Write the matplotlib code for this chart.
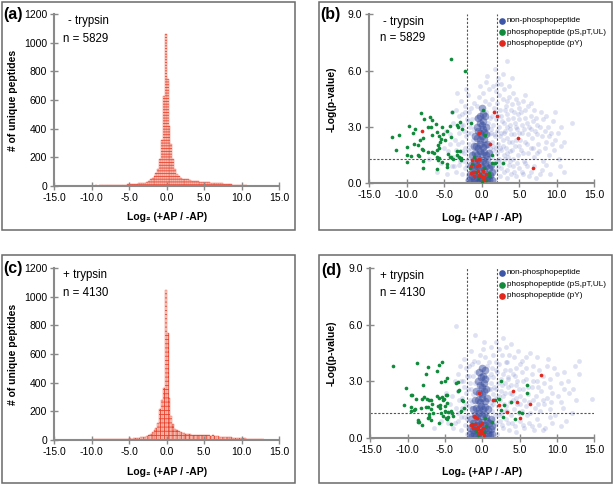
import numpy as np
import matplotlib
matplotlib.use('Agg')
import matplotlib.pyplot as plt
from matplotlib.lines import Line2D
from matplotlib.patches import Rectangle

W, H = 614, 487
FN = ['Liberation Sans', 'DejaVu Sans']

# ---------------- data ----------------
bin_width = 0.25
hist_a_start = -10.0
hist_a_counts = [2, 1, 2, 1, 2, 3, 2, 2,
                 3, 2, 4, 3, 5, 4, 6, 7,
                 5, 8, 6, 9, 10, 9, 11, 13,
                 14, 16, 17, 20,
                 22, 28, 35, 45,
                 55, 70, 90, 115,
                 185, 320, 625, 1060,
                 745, 420, 290, 185,
                 120, 85, 65, 55,
                 50, 47, 45, 44,
                 40, 36, 33, 32,
                 30, 29, 28, 27,
                 26, 25, 24, 22,
                 21, 20, 19, 18,
                 17, 16, 15, 14,
                 12, 11, 9, 8,
                 7, 6, 5, 4,
                 3, 2, 2, 1]
hist_c_start = -10.0
hist_c_counts = [2, 3, 2, 3, 4, 3, 2, 3,
                 4, 3, 5, 4, 6, 5, 6, 7,
                 6, 8, 7, 8, 9, 8, 10, 11,
                 12, 14, 16, 19,
                 22, 27, 30, 38,
                 54, 70, 82, 117,
                 214, 280, 362, 1050,
                 745, 292, 166, 108,
                 75, 65, 59, 52,
                 48, 45, 42, 40,
                 38, 36, 35, 34,
                 33, 32, 31, 31,
                 33, 32, 30, 28,
                 30, 28, 26, 24,
                 22, 21, 20, 19,
                 18, 17, 16, 15,
                 14, 13, 12, 11,
                 10, 9, 8, 8,
                 7, 6, 5, 5,
                 4, 3, 3, 2]

# volcano (b): -trypsin, non-phosphopeptides (faint cloud)
nonphos_b_scatter = [
    (1.2,0.3),(1.5,0.6),(1.8,0.2),(2.1,0.9),(2.4,0.4),(2.7,1.1),(3.0,0.6),(3.3,0.3),(3.6,1.0),(3.9,0.5),
    (4.2,0.9),(4.6,0.4),(5.0,0.8),(5.5,0.5),(6.0,0.9),(6.6,0.6),(7.2,0.3),(8.0,0.7),(9.1,0.5),(10.4,0.9),(11.0,0.6),
    (1.3,1.4),(1.7,1.2),(2.0,1.6),(2.3,1.3),(2.6,1.8),(2.9,1.5),(3.2,1.9),(3.5,1.4),(3.8,1.7),(4.1,1.3),
    (4.4,2.0),(4.8,1.5),(5.2,1.8),(5.6,1.2),(6.1,1.6),(6.5,1.9),(7.0,1.4),(7.6,1.7),(8.2,1.2),(8.9,1.5),(9.6,1.8),(10.3,1.3),
    (1.4,2.2),(1.8,2.5),(2.2,2.1),(2.5,2.7),(2.8,2.3),(3.1,2.8),(3.4,2.4),(3.7,2.9),(4.0,2.2),(4.3,2.6),
    (4.7,2.9),(5.1,2.3),(5.4,2.7),(5.8,2.2),(6.2,2.6),(6.7,2.4),(7.1,2.8),(7.5,2.1),(8.0,2.5),(8.6,2.2),(9.2,2.7),(9.8,2.3),(10.5,2.0),
    (1.5,3.1),(1.9,3.4),(2.3,3.0),(2.6,3.6),(3.0,3.2),(3.3,3.7),(3.7,3.1),(4.1,3.5),(4.5,3.0),(4.9,3.4),
    (5.3,3.1),(5.8,3.5),(6.3,3.0),(6.8,3.3),(7.4,3.1),(8.1,3.4),(8.8,3.0),(9.5,3.3),(12.0,3.2),
    (1.6,4.0),(2.0,4.3),(2.4,3.9),(2.8,4.5),(3.2,4.1),(3.6,4.6),(4.0,4.2),(4.5,4.5),(5.0,4.0),(5.5,4.4),(6.2,4.1),(7.0,3.9),
    (1.9,4.9),(2.5,5.3),(3.0,5.0),(2.8,5.8),(3.3,6.5),(2.2,5.6),(1.5,5.2),
    (-1.8,0.4),(-2.2,0.8),(-2.6,0.5),(-3.0,1.0),(-3.5,0.6),(-4.0,0.9),(-4.6,0.5),(-1.9,1.3),(-2.4,1.6),(-2.9,1.2),
    (-3.4,1.8),(-3.9,1.4),(-4.5,1.7),(-1.7,2.1),(-2.1,2.5),(-2.6,2.2),(-3.1,2.7),(-3.6,2.3),(-4.2,2.6),(-1.6,3.0),
    (-2.0,3.4),(-2.5,3.1),(-3.0,3.6),(-3.8,3.2),(-1.7,3.8),(-2.3,4.1),(-2.8,4.4),(-1.9,4.7),(-2.1,5.0),(-3.3,4.8),
    (-5.5,1.1),(-6.0,0.6),(-7.0,1.3),
    (-1.6,0.1),(-2.0,0.2),(-1.5,0.7),(-1.3,1.6),(-1.2,2.3),(-1.0,2.9),(-0.8,3.5),(-0.6,4.1),(-0.4,4.6),(-1.1,4.3),
    (1.2,0.1),(1.3,0.8),(1.1,1.9),(0.9,2.6),(0.8,3.2),(0.6,3.8),(0.4,4.4),(0.2,4.8),(0.9,4.2),(1.1,3.5),
    (-1.4,1.9),(-1.5,2.7),(-1.3,3.4),(1.2,2.7),(1.4,1.0),(1.5,1.8),(-0.2,5.2),(0.5,5.4),(-1.4,4.0),(1.0,5.0)]
nonphos_b_scatter2 = [
    (0.9,0.9),(1.4,0.4),(1.9,0.7),(2.2,1.2),(2.6,0.8),(3.1,1.3),(3.4,0.7),(3.8,1.2),(4.3,0.6),(4.7,1.1),(5.3,0.6),
    (5.8,1.1),(6.3,0.4),(7.0,0.9),(7.8,0.5),(8.6,1.0),
    (1.1,1.6),(1.5,2.0),(1.9,1.9),(2.4,1.9),(2.8,2.0),(3.3,1.6),(3.6,2.2),(4.0,1.8),(4.6,2.3),(5.0,2.0),(5.5,1.6),
    (6.0,2.1),(6.8,1.9),(7.3,1.6),(8.4,1.9),(9.3,2.1),
    (1.2,2.9),(1.6,2.6),(2.0,2.8),(2.4,2.5),(2.9,2.7),(3.4,3.0),(3.9,2.6),(4.4,3.2),(4.9,2.7),(5.6,2.9),(6.0,3.2),
    (6.5,2.9),(7.3,2.6),(7.8,3.0),(8.4,2.8),(9.0,2.5),(10.2,2.7),(11.0,2.2),
    (1.3,3.6),(1.7,3.8),(2.2,3.6),(2.7,3.3),(3.1,3.9),(3.5,3.4),(3.9,3.9),(4.3,3.8),(4.8,3.7),(5.2,3.8),(5.7,3.9),
    (6.5,3.6),(7.2,3.5),(7.9,3.8),(8.5,3.6),(9.8,3.8),(10.5,3.0),
    (1.4,4.5),(2.3,4.7),(3.4,4.4),(4.2,4.8),(4.8,4.3),(5.8,4.7),(6.6,4.3),(2.0,5.3),(3.6,5.2),(4.0,5.6),(1.7,6.1),(0.7,5.7),
    (-1.6,0.6),(-2.0,1.0),(-2.4,1.2),(-1.8,1.8),(-2.2,1.9),(-2.7,1.7),(-3.2,2.1),(-1.9,2.7),(-2.4,2.8),(-2.8,3.1),
    (-1.8,3.3),(-2.2,3.8),(-3.4,3.9),(-2.6,3.7),(-3.2,1.4),(-3.7,0.9),(-4.3,2.1),(-5.0,1.9),(-4.8,2.8),(-4.0,3.8)]
nonphos_b_core = [
    (-1.4,0.1),(-1.1,0.2),(-0.8,0.1),(-0.5,0.05),(-0.2,0.1),(0.1,0.05),(0.4,0.1),(0.7,0.2),(1.0,0.15),
    (-1.3,0.4),(-1.0,0.5),(-0.7,0.35),(-0.4,0.45),(-0.1,0.3),(0.2,0.4),(0.5,0.5),(0.8,0.4),(1.1,0.45),
    (-1.2,0.8),(-0.9,0.7),(-0.6,0.9),(-0.3,0.75),(0.0,0.85),(0.3,0.7),(0.6,0.9),(0.9,0.8),
    (-1.1,1.2),(-0.8,1.1),(-0.5,1.3),(-0.2,1.15),(0.1,1.25),(0.4,1.1),(0.7,1.3),
    (-0.9,1.6),(-0.6,1.5),(-0.3,1.7),(0.0,1.55),(0.3,1.65),(0.6,1.5),
    (-0.8,2.0),(-0.5,1.9),(-0.2,2.1),(0.1,1.95),(0.4,2.05),
    (-0.6,2.4),(-0.3,2.3),(0.0,2.5),(0.3,2.35),
    (-0.5,2.8),(-0.2,2.7),(0.1,2.9),(0.3,2.75),
    (-0.3,3.2),(0.0,3.1),(0.2,3.3),
    (-0.2,3.6),(0.1,3.7),(0.0,4.0),
    (-1.7,0.2),(-1.6,0.5),(1.3,0.2),(1.3,0.6),(-1.5,1.0),(1.2,1.0),(-1.3,1.5),(1.0,1.6),(-1.1,2.0),(0.7,2.1),
    (-0.9,2.5),(0.6,2.6),(-0.7,3.0),(0.5,3.0),(-0.5,3.5),(0.4,3.6)]
phos_sty_b = [
    (-4.15,6.62),(-2.24,6.0),(-8.1,3.73),(-7.67,3.41),(-6.95,3.55),(-6.68,3.37),(-9.7,3.03),(-8.95,2.89),(-7.2,3.0),
    (-6.77,3.01),(-6.06,3.16),(-5.3,2.98),(-4.68,2.8),(-4.24,3.03),(-3.31,3.1),(-3.13,2.98),(-2.68,2.88),(-2.9,3.25),
    (-11.93,2.48),(-11.0,2.59),(-9.13,2.68),(-7.88,2.43),(-8.2,2.31),(-6.68,2.56),(-6.01,2.75),(-5.71,2.54),(-5.44,2.37),
    (-5.57,2.22),(-5.13,2.62),(-4.11,2.48),(-4.91,2.31),(-9.0,2.09),(-8.47,2.06),(-11.4,1.79),(-9.97,1.95),(-8.02,1.84),
    (-7.88,1.77),(-5.84,2.04),(-5.67,1.9),(-5.93,1.77),(-7.13,1.65),(-6.68,1.65),(-6.37,1.63),(-10.01,1.52),(-9.44,1.45),
    (-8.47,1.49),(-8.33,1.47),(-4.55,1.56),(-4.24,1.42),(-4.07,1.38),(-3.35,1.51),(-3.27,1.74),(-2.87,1.74),(-6.01,1.42),
    (-5.71,1.33),(-5.88,1.26),(-9.97,1.12),(-7.8,1.17),(-5.3,1.13),(-4.68,1.03),(-3.8,1.29),(-2.81,1.24),(-2.73,1.33),
    (-3.04,1.38),(-7.88,0.83),(-5.93,0.75),(-4.6,0.85),(-3.93,3.81),(-1.5,3.2),
    (0.2,3.89),(0.39,2.57),(1.32,1.06),(2.87,1.1),(1.36,1.52),(1.8,1.1),(-1.57,0.83),(-1.35,1.03),(1.0,0.56),
    (0.92,0.39),(-0.51,0.35),(0.03,0.14),(-0.8,0.6),(0.5,0.2),(-0.2,0.5),(0.3,0.8),(-1.1,1.4)]
phos_y_b = [
    (-7.97,2.78),(1.63,3.78),(1.99,3.6),(-0.33,2.68),(1.13,2.11),(4.79,2.4),(6.87,0.83),(-0.81,1.24),(-0.43,1.28),
    (-0.68,0.92),(-0.33,0.96),(0.12,0.67),(-0.51,0.67),(-1.04,0.58),(-0.43,0.44),(0.19,0.27),(-0.17,0.39),(0.36,0.35),
    (-1.44,0.92),(-1.0,0.39),(-1.27,1.24),(-1.44,0.56),(0.5,0.5),(0.3,0.15)]

# volcano (d): +trypsin
nonphos_d_scatter = [
    (1.2,0.3),(1.6,0.7),(2.0,0.2),(2.4,0.9),(2.8,0.5),(3.2,1.0),(3.6,0.4),(4.0,0.8),(4.5,0.3),(5.0,0.9),(5.6,0.5),
    (6.2,0.8),(6.9,0.4),(7.6,0.7),(8.4,0.5),(9.3,0.8),(10.5,0.6),
    (1.3,1.4),(1.7,1.2),(2.1,1.7),(2.5,1.3),(2.9,1.8),(3.3,1.4),(3.7,1.9),(4.2,1.5),(4.7,1.8),(5.3,1.4),(5.8,1.7),
    (6.4,1.3),(7.0,1.6),(7.7,1.4),(8.3,1.8),(9.0,1.5),(9.8,1.2),(10.8,1.6),(12.0,1.3),
    (1.4,2.3),(1.8,2.6),(2.2,2.2),(2.6,2.8),(3.0,2.4),(3.5,2.7),(4.0,2.3),(4.5,2.8),(5.0,2.2),(5.5,2.6),(6.1,2.3),
    (6.6,2.7),(7.2,2.2),(7.9,2.5),(8.6,2.1),(9.4,2.4),(10.2,2.2),(11.0,2.6),(12.5,2.0),(14.7,2.05),
    (1.5,3.2),(2.0,3.5),(2.5,3.1),(3.0,3.6),(3.5,3.2),(4.1,3.4),(4.7,3.0),(5.3,3.5),(5.9,3.1),(6.6,3.4),(7.3,3.0),
    (8.1,3.3),(9.0,3.1),(10.0,3.4),(11.5,3.0),(13.0,3.4),
    (1.8,4.0),(2.6,4.4),(3.3,4.0),(4.2,4.3),(5.0,3.9),(6.4,4.5),(8.8,4.2),(13.0,4.1),
    (2.8,5.3),(1.2,4.8),(3.2,4.8),
    (-1.8,0.3),(-2.3,0.7),(-2.8,0.4),(-3.3,0.9),(-3.9,0.5),(-4.6,0.8),(-1.9,1.2),(-2.4,1.5),(-2.9,1.1),(-3.5,1.6),
    (-4.2,1.3),(-1.7,2.0),(-2.2,2.4),(-2.7,2.1),(-3.3,2.5),(-4.0,2.2),(-1.6,2.9),(-2.1,3.3),(-2.6,3.0),(-3.2,3.4),
    (-1.8,3.8),(-2.4,4.2),(-1.5,4.6),(-1.0,5.46),(-3.48,5.95),(-5.5,0.9),(-6.5,0.5),
    (-1.6,0.1),(-2.0,0.2),(-1.5,0.7),(-1.3,1.6),(-1.2,2.3),(-1.0,2.9),(-0.8,3.5),(-0.6,4.0),(-0.3,4.4),(-1.1,4.1),
    (1.2,0.1),(1.3,0.8),(1.1,1.9),(0.9,2.6),(0.8,3.2),(0.6,3.8),(0.3,4.3),(0.1,4.7),(0.9,4.0),(1.1,3.4),
    (-1.4,1.9),(-1.5,2.6),(-1.3,3.3),(1.2,2.6),(1.4,1.0),(1.5,1.8),(0.2,5.1),(-1.4,3.9)]
nonphos_d_scatter2 = [
    (0.9,0.9),(1.4,0.4),(1.9,0.8),(2.3,1.2),(2.7,0.7),(3.1,1.4),(3.5,0.8),(3.9,1.2),(4.4,0.6),(4.9,1.3),(5.4,0.7),
    (6.0,1.2),(6.6,0.6),(7.3,1.0),(8.1,0.4),(9.0,1.1),(11.2,0.9),
    (1.1,1.7),(1.5,2.0),(1.9,2.1),(2.4,2.0),(2.8,2.2),(3.2,1.7),(3.7,2.4),(4.1,2.0),(4.5,2.1),(5.1,1.8),(5.6,2.0),
    (6.2,1.9),(6.8,2.0),(7.4,1.8),(8.1,2.0),(9.2,1.9),(10.5,1.9),(11.6,2.4),
    (1.2,2.9),(1.6,2.7),(2.1,2.9),(2.5,2.5),(3.0,2.9),(3.4,3.1),(3.9,2.8),(4.4,3.3),(4.9,2.6),(5.5,3.0),(6.1,2.7),
    (6.8,3.0),(7.5,2.7),(8.3,2.9),(9.1,2.7),(10.6,2.9),(12.2,2.6),
    (1.3,3.7),(1.8,3.6),(2.3,3.9),(2.8,3.4),(3.2,4.0),(3.7,3.6),(4.5,3.7),(5.3,4.1),(5.9,3.7),(6.8,3.8),(7.6,3.6),
    (8.6,3.8),(9.6,3.7),(11.0,3.5),(12.4,3.8),
    (1.5,4.4),(2.2,4.7),(3.6,4.4),(4.8,4.6),(5.8,4.3),(7.3,4.3),(1.9,5.1),(3.9,5.0),
    (-1.6,0.6),(-2.0,1.0),(-2.4,1.1),(-1.8,1.7),(-2.2,1.8),(-2.7,1.6),(-3.1,2.0),(-1.9,2.6),(-2.4,2.7),(-2.8,3.0),
    (-1.8,3.3),(-2.2,3.7),(-3.0,3.8),(-3.6,3.0),(-3.2,1.3),(-3.7,0.8),(-4.3,1.8),(-4.9,2.4)]
nonphos_d_core = [
    (-1.4,0.1),(-1.1,0.2),(-0.8,0.1),(-0.5,0.05),(-0.2,0.1),(0.1,0.05),(0.4,0.1),(0.7,0.2),(1.0,0.15),
    (-1.3,0.4),(-1.0,0.5),(-0.7,0.35),(-0.4,0.45),(-0.1,0.3),(0.2,0.4),(0.5,0.5),(0.8,0.4),(1.1,0.45),
    (-1.2,0.8),(-0.9,0.7),(-0.6,0.9),(-0.3,0.75),(0.0,0.85),(0.3,0.7),(0.6,0.9),(0.9,0.8),
    (-1.0,1.2),(-0.7,1.1),(-0.4,1.3),(-0.1,1.15),(0.2,1.25),(0.5,1.1),
    (-0.8,1.6),(-0.5,1.5),(-0.2,1.7),(0.1,1.55),(0.4,1.65),
    (-0.6,2.0),(-0.3,1.9),(0.0,2.1),(0.3,1.95),
    (-0.4,2.4),(-0.1,2.3),(0.2,2.5),
    (-0.3,2.8),(0.0,2.7),(0.2,2.9),
    (-0.2,3.2),(0.1,3.3),(0.0,3.7),
    (-1.7,0.2),(-1.6,0.5),(1.3,0.2),(1.3,0.6),(-1.5,1.0),(1.1,1.0),(-1.2,1.5),(0.8,1.5),(-1.0,2.0),(0.6,2.1),
    (-0.8,2.5),(0.5,2.6),(-0.6,3.0),(0.4,3.1),(-0.4,3.5),(0.3,3.6)]
phos_sty_d = [
    (-12.0,3.83),(-8.71,3.99),(-7.27,3.74),(-5.36,4.04),(-5.84,3.85),(-6.03,3.56),(-7.5,3.37),(-7.9,2.78),(-5.53,2.96),
    (-5.0,3.01),(-4.69,3.16),(-10.26,2.62),(-9.42,2.25),(-8.88,2.04),(-8.04,2.06),(-7.77,2.18),(-7.45,2.07),(-7.14,2.0),
    (-6.87,2.02),(-6.11,2.2),(-5.84,2.13),(-5.44,2.15),(-5.3,2.0),(-5.13,2.07),(-4.9,2.28),(-4.69,2.28),(-4.77,1.84),
    (-4.96,1.68),(-10.45,1.72),(-9.51,1.63),(-8.97,1.54),(-9.55,1.42),(-9.19,1.47),(-8.17,1.59),(-7.54,1.62),(-7.23,1.63),
    (-6.87,1.54),(-6.74,1.79),(-5.93,1.68),(-5.66,1.75),(-5.63,1.58),(-3.48,2.92),(-3.26,2.96),(-3.3,2.48),(-3.12,2.55),
    (-2.81,1.42),(-2.58,1.93),(-7.1,1.24),(-6.64,1.33),(-5.53,1.31),(-5.3,1.17),(-5.04,1.4),(-4.55,1.35),(-4.23,1.4),
    (-4.1,1.33),(-3.88,1.17),(-8.65,0.96),(-8.52,0.85),(-8.04,0.67),(-7.27,1.03),(-7.1,1.12),(-6.83,0.94),(-5.8,0.8),
    (-4.82,1.03),(-4.55,1.12),(-4.69,0.98),(-4.23,0.73),(-9.5,2.28),(-8.6,0.83),(-2.68,1.99),(-2.41,1.56),
    (2.5,3.0),(5.99,2.82),(6.03,2.36),(2.28,2.06),(1.66,2.0),(2.91,1.74),(2.46,1.47),(3.84,1.91),(4.91,1.35),(5.27,1.3),
    (2.82,1.12),(4.42,1.01),(1.3,0.85),(-1.42,0.73),(0.4,1.05),(0.5,0.64),(-0.61,0.16),(0.2,0.3),(-0.9,0.35)]
phos_y_d = [
    (7.86,3.33),(4.07,2.48),(1.39,2.0),(2.2,1.75),(4.61,1.88),(6.43,1.79),(3.35,1.37),(5.05,1.03),(-0.4,2.37),
    (-1.07,1.15),(-0.75,1.03),(-1.02,0.71),(-0.58,0.58),(-0.27,0.67),(-0.04,0.8),(0.13,0.53),(-0.13,0.41),(-0.84,0.53),
    (-1.2,0.5),(-0.4,0.27),(0.27,0.16),(0.0,0.23),(-0.98,1.08),(-1.51,0.67),(-0.53,0.45)]

legend_labels = ['non-phosphopeptide', 'phosphopeptide (pS,pT,UL)', 'phosphopeptide (pY)']
hist_xticks = [-15, -10, -5, 0, 5, 10, 15]
hist_yticks = [0, 200, 400, 600, 800, 1000, 1200]
volc_yticks = [0, 3, 6, 9]

C_BLUE = '#3e56a8'
C_GREEN = '#118a3c'
C_RED = '#e2271d'
C_AXIS = '#8a8a8a'

plt.rcParams['hatch.linewidth'] = 0.6

fig = plt.figure(figsize=(W / 100, H / 100), dpi=100)


def fpos(x0, y0, x1, y1):
    return [x0 / W, 1 - y1 / H, (x1 - x0) / W, (y1 - y0) / H]


def ftext(px, py, s, **kw):
    fig.text(px / W, 1 - py / H, s, **kw)


def style_axes(ax, yticks, yfmt, xlab_y, ylab_x, ylabel):
    for side in ('top', 'right'):
        ax.spines[side].set_visible(False)
    for side in ('left', 'bottom'):
        ax.spines[side].set_color(C_AXIS)
        ax.spines[side].set_linewidth(1.5)
    ax.set_xlim(-15, 15)
    ax.set_xticks(hist_xticks)
    ax.set_xticklabels([f'{v:.1f}' for v in hist_xticks])
    ax.set_yticks(yticks)
    ax.set_yticklabels([yfmt(v) for v in yticks])
    ax.tick_params(direction='inout', length=6, width=1.0, color=C_AXIS,
                   labelsize=7.5, pad=2)
    for lab in ax.get_xticklabels() + ax.get_yticklabels():
        lab.set_family(FN)
    ax.set_xlabel('Log₂ (+AP / -AP)', family=FN, fontweight='bold', fontsize=7.5)
    ax.xaxis.label.set_va('center')
    ax.xaxis.set_label_coords(0.5, xlab_y)
    ax.set_ylabel(ylabel, family=FN, fontweight='bold', fontsize=7.5)
    ax.yaxis.label.set_va('center')
    ax.yaxis.set_label_coords(ylab_x, 0.5)


def histogram(ax, start, counts, hatch, xlab_y):
    lefts = start + bin_width * np.arange(len(counts))
    ax.bar(lefts, counts, width=bin_width, align='edge', facecolor='#f9d2c9',
           edgecolor='#e8432e', linewidth=0.25, hatch=hatch)
    style_axes(ax, hist_yticks, lambda v: f'{v:d}', xlab_y, -0.182, '# of unique peptides')
    ax.set_ylim(0, 1200)


def volcano(ax, scatters, core, sty, py_, leg_y, xlab_y, ylab_x):
    for sc in scatters:
        sx, sy = np.array(sc).T
        ax.scatter(sx, sy, s=12, color='#6878c4', alpha=0.22, linewidths=0, zorder=1)
    cx, cy = np.array(core).T
    ax.scatter(cx, cy, s=30, color='#3c50a0', alpha=0.5, linewidths=0, zorder=1)
    for v in (-2, 2):
        ax.axvline(v, color='#555555', lw=0.8, ls=(0, (2, 1.5)), zorder=2)
    ax.axhline(1.3, color='#555555', lw=0.8, ls=(0, (2, 1.5)), zorder=2)
    gx, gy = np.array(sty).T
    ax.scatter(gx, gy, s=7, color=C_GREEN, linewidths=0, zorder=3)
    rx, ry = np.array(py_).T
    ax.scatter(rx, ry, s=7, color=C_RED, linewidths=0, zorder=4)
    style_axes(ax, volc_yticks, lambda v: f'{v:.1f}', xlab_y, ylab_x, '-Log(p-value)')
    ax.set_ylim(0, 9)
    for yy, col, lab in zip(leg_y, (C_BLUE, C_GREEN, C_RED), legend_labels):
        fig.add_artist(Line2D([502 / W], [1 - yy / H], marker='o', markersize=4.8, color=col,
                              markeredgewidth=0, linestyle='none', transform=fig.transFigure))
        ftext(507, yy, lab, family=FN, fontsize=5.9, va='center', ha='left')


ax_a = fig.add_axes(fpos(54, 14.3, 279.3, 185.7))
histogram(ax_a, hist_a_start, hist_a_counts, '------', -0.181)
ax_c = fig.add_axes(fpos(54, 268.3, 279.3, 439.7))
histogram(ax_c, hist_c_start, hist_c_counts, '++++', -0.19)
ax_b = fig.add_axes(fpos(369.3, 14.3, 594.3, 183.3))
volcano(ax_b, (nonphos_b_scatter, nonphos_b_scatter2), nonphos_b_core, phos_sty_b, phos_y_b,
        (20.7, 32.3, 43.3), -0.207, -0.166)
ax_d = fig.add_axes(fpos(370.3, 268.3, 594.3, 437.7))
volcano(ax_d, (nonphos_d_scatter, nonphos_d_scatter2), nonphos_d_core, phos_sty_d, phos_y_d,
        (273, 284.7, 295.7), -0.204, -0.171)

# panel frames
for (x0, y0, x1, y1) in ((2, 2, 295, 230), (319, 2, 612, 230), (2, 255, 295, 483), (319, 255, 612, 483)):
    fig.add_artist(Rectangle((x0 / W, 1 - y1 / H), (x1 - x0) / W, (y1 - y0) / H,
                             transform=fig.transFigure, fill=False, ec='#6a6a6a', lw=1.1))

# panel labels
for px, py, s in ((3, 15, '(a)'), (320, 15, '(b)'), (3, 268, '(c)'), (321, 270, '(d)')):
    ftext(px, py, s, family=FN, fontweight='bold', fontsize=11.5, va='center', ha='left')

# annotations
ann = dict(family=FN, fontsize=8.3, va='center')
ftext(68, 21, '- trypsin', **ann)
ftext(63, 39, 'n = 5829', **ann)
ftext(383, 21.5, '- trypsin', **ann)
ftext(380, 38, 'n = 5829', **ann)
ftext(63, 275, '+ trypsin', **ann)
ftext(63, 293, 'n = 4130', **ann)
ftext(380, 275.5, '+ trypsin', **ann)
ftext(380, 293, 'n = 4130', **ann)

fig.savefig('out.png', dpi=100)
